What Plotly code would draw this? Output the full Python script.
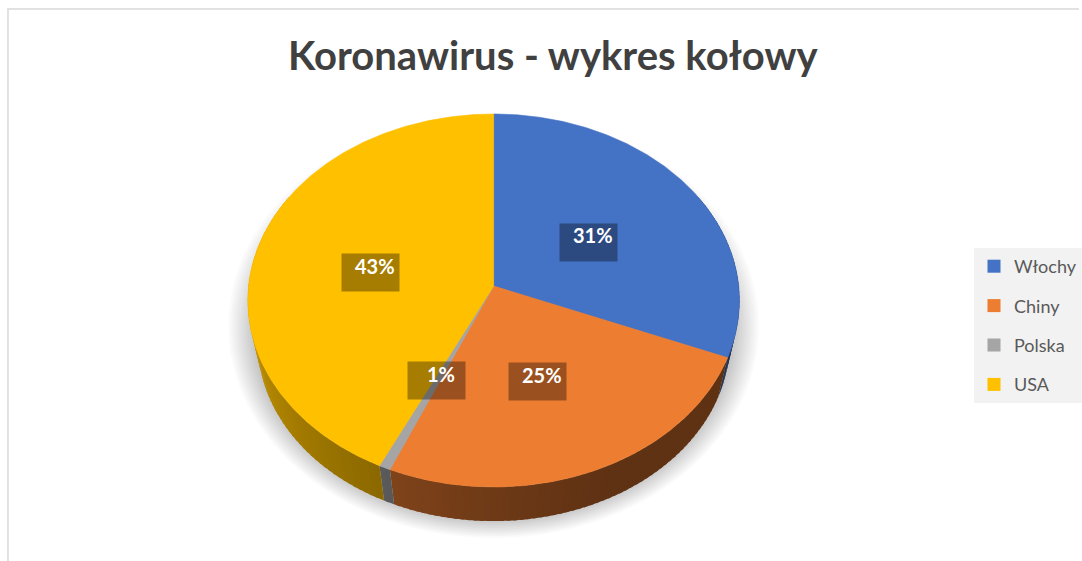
import numpy as np
import plotly.graph_objects as go

# ---------------- data ----------------
categories = ["Włochy", "Chiny", "Polska", "USA"]
values = [31.0, 25.2, 0.7, 42.7]
colors = ["#4472C4", "#ED7D31", "#A5A5A5", "#FFC000"]
title_text = "Koronawirus - wykres kołowy"

# ---------------- geometry (pixel space) ----------------
W, H = 1082, 561
CX, CY, RX, RY = 495.0, 300.5, 246.5, 186.5
A = -0.0777          # perspective tilt of the top face
S, D = 0.96, 41.5    # bottom rim scale and drop
LABEL_R = 0.5


def proj(r, th):
    t = np.radians(th)
    u = r * np.sin(t)
    v = -r * np.cos(t)
    k = np.sqrt(1 - A * A)
    den = 1 + A * v
    return CX + RX * u * k / den, CY + RY * (v + A) / den


def proj_bottom(th):
    x, y = proj(1.0, th)
    return CX + S * (x - CX), CY + S * (y - CY) + D


def hex_rgb(h):
    h = h.lstrip("#")
    return tuple(int(h[i:i + 2], 16) for i in (0, 2, 4))


def shade(h, f):
    r, g, b = hex_rgb(h)
    return "rgb(%d,%d,%d)" % (r * f, g * f, b * f)


def side_factor(th):
    t = max(0.0, (th - 150.0) / 110.0)
    return min(0.80, 0.40 + 0.36 * t ** 1.3)


vals = np.array(values, dtype=float)
pct = vals / vals.sum() * 100.0
ends = np.cumsum(pct) * 3.6
starts = ends - pct * 3.6

fig = go.Figure()

# ---------------- soft shadow ----------------
n_sh = 12
for i in range(n_sh):
    f = i / (n_sh - 1)
    rx = 266 - 26 * f
    ry = 212 - 22 * f
    t = np.linspace(0, 2 * np.pi, 181)
    fig.add_trace(go.Scatter(
        x=CX + rx * np.sin(t), y=326 + 4 * f + ry * np.cos(t),
        mode="lines", fill="toself", fillcolor="rgba(0,0,0,0.018)",
        line=dict(width=0), hoverinfo="skip", showlegend=False))

# ---------------- side walls ----------------
for s0, e0, col in zip(starts, ends, colors):
    a0, a1 = max(s0, 60.0), min(e0, 300.0)
    if a1 <= a0:
        continue
    n = max(1, int(np.ceil((a1 - a0) / 1.5)))
    edges = np.linspace(a0, a1, n + 1)
    for t1, t2 in zip(edges[:-1], edges[1:]):
        t2e = min(a1, t2 + 0.8)   # overlap neighbour to hide seams
        p1 = proj(1.0, t1)
        p2 = proj(1.0, t2e)
        q1 = proj_bottom(t1)
        q2 = proj_bottom(t2e)
        c = shade(col, side_factor(0.5 * (t1 + t2)))
        fig.add_trace(go.Scatter(
            x=[p1[0], p2[0], q2[0], q1[0], p1[0]],
            y=[p1[1], p2[1], q2[1], q1[1], p1[1]],
            mode="lines", fill="toself", fillcolor=c,
            line=dict(width=0), hoverinfo="skip",
            showlegend=False))

# ---------------- top face ----------------
for s0, e0, col, name in zip(starts, ends, colors, categories):
    n = max(2, int(np.ceil((e0 - s0) / 0.5)))
    th = np.linspace(s0, e0, n + 1)
    xs, ys = proj(1.0, th)
    vx, vy = proj(0.0, 0.0)
    fig.add_trace(go.Scatter(
        x=np.concatenate([[vx], xs, [vx]]),
        y=np.concatenate([[vy], ys, [vy]]),
        mode="lines", fill="toself", fillcolor=col,
        line=dict(color=col, width=0.6), name=name,
        hoverinfo="name", showlegend=False))

# ---------------- data labels ----------------
annotations = []
for s0, e0, p in zip(starts, ends, pct):
    lx, ly = proj(LABEL_R, 0.5 * (s0 + e0))
    annotations.append(dict(
        x=lx, y=ly, xref="x", yref="y", text="", showarrow=False,
        width=55, height=35, bgcolor="rgba(0,0,0,0.35)",
        xshift=-5, yshift=-7))
    annotations.append(dict(
        x=lx, y=ly, xref="x", yref="y", text="%d%%" % round(p),
        showarrow=False,
        font=dict(family="Lato", size=20, color="white", weight=700)))

annotations.append(dict(
    x=555, y=55, xref="x", yref="y", text=title_text, showarrow=False,
    font=dict(family="Lato", size=40, color="#404040", weight=700)))

# ---------------- legend entries ----------------
for name, col in zip(categories, colors):
    fig.add_trace(go.Scatter(
        x=[None], y=[None], mode="markers", name=name, legendgroup=name,
        marker=dict(symbol="square", size=13, color=col)))

fig.update_layout(
    width=W, height=H,
    margin=dict(l=0, r=0, t=0, b=0),
    paper_bgcolor="white", plot_bgcolor="white",
    xaxis=dict(range=[0, W], visible=False, fixedrange=True),
    yaxis=dict(range=[H, 0], visible=False, fixedrange=True),
    showlegend=True,
    legend=dict(
        x=977 / W, y=1 - 248 / H, xanchor="left", yanchor="top",
        bgcolor="#F2F2F2", traceorder="grouped", tracegroupgap=13,
        font=dict(family="Lato", size=18, color="#595959"),
        itemwidth=30),
    annotations=annotations,
    shapes=[dict(type="rect", xref="x", yref="y", x0=8, y0=9,
                 x1=W + 20, y1=H + 20,
                 line=dict(color="#D9D9D9", width=1.5),
                 layer="below")],
)

fig.write_html("out.html")
